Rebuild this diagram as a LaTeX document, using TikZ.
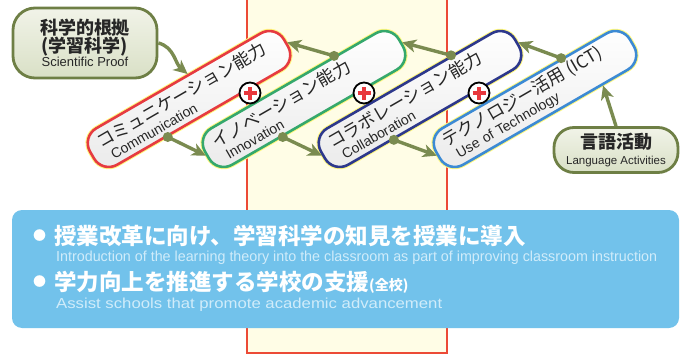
\documentclass[tikz,border=0pt]{standalone}
\usepackage{fontspec}
\usepackage{graphicx}
\setmainfont{Liberation Sans}
\newfontfamily\jpfont{Noto Sans CJK JP}
\usetikzlibrary{arrows.meta,calc}

\definecolor{pillred}{HTML}{E63B40}
\definecolor{pillgreen}{HTML}{35A86C}
\definecolor{pillnavy}{HTML}{2D388C}
\definecolor{pillsky}{HTML}{3C8AD4}
\definecolor{linkgreen}{HTML}{7A8B50}
\definecolor{boxline}{HTML}{6E7F45}
\definecolor{boxtop}{HTML}{F1F3E8}
\definecolor{boxbot}{HTML}{D9E0C6}
\definecolor{cream}{HTML}{FFFDE6}
\definecolor{framered}{HTML}{EC4A36}
\definecolor{bandblue}{HTML}{72C2EB}
\definecolor{bandtext}{HTML}{D0ECFA}
\definecolor{plusred}{HTML}{E8383D}

\begin{document}
\begin{tikzpicture}[x=1pt,y=-1pt,
	pill/.style={draw=#1, line width=2.6pt, rounded corners=17pt, rotate=30,
		minimum width=224pt, minimum height=42pt, inner sep=0pt,
		top color=white, bottom color=black!8,
		preaction={draw=yellow!50, line width=4.6pt},
		text width=202pt, align=left, text=black!85,
		font=\fontsize{14}{18}\selectfont},
	plusmark/.style={circle, draw=black, line width=1.8pt, fill=white,
		minimum size=21pt, inner sep=0pt,
		path picture={\draw[plusred, line width=3.6pt]
			([xshift=-6.5pt]path picture bounding box.center) -- ([xshift=6.5pt]path picture bounding box.center)
			([yshift=-6.5pt]path picture bounding box.center) -- ([yshift=6.5pt]path picture bounding box.center);}},
	sidebox/.style={draw=boxline, line width=2.8pt, rounded corners=#1,
		top color=boxtop, bottom color=boxbot, align=center, inner sep=0pt, text=black!85},
	link/.style={linkgreen, line width=3.4pt, -{Stealth[length=14pt,width=13pt,inset=4pt]}},
	band/.style={fill=bandblue, rounded corners=10pt, minimum width=667pt, minimum height=118pt},
	jpline/.style={anchor=west, inner sep=0pt, text=white, font=\jpfont\bfseries\fontsize{22.5}{24}\selectfont},
	enline/.style={anchor=west, inner sep=0pt, text=bandtext, font=\fontsize{14}{16}\selectfont}]

	\useasboundingbox (0,0) rectangle (681,356);

	\fill[cream] (247,0) rectangle (447,353);
	\draw[framered, line width=1.3pt] (247,-2) -- (247,353) -- (447,353) -- (447,-2);

	\node[pill=pillred]   (comm)   at (189,99) {{\jpfont\fontsize{17.5}{18}\selectfont コミュニケーション能力}\\[-2pt]\hspace{6pt}Communication};
	\node[pill=pillgreen] (inno)   at (304,99) {{\jpfont\fontsize{17.5}{18}\selectfont イノベーション能力}\\[-2pt]\hspace{6pt}Innovation};
	\node[pill=pillnavy]  (collab) at (420,99) {{\jpfont\fontsize{17.5}{18}\selectfont コラボレーション能力}\\[-2pt]\hspace{6pt}Collaboration};
	\node[pill=pillsky]   (tech)   at (535,99) {{\jpfont\fontsize{17.5}{18}\selectfont テクノロジー活用 (ICT)}\\[-2pt]\hspace{6pt}Use of Technology};

	\coordinate (t1) at ($(inno.north)!0.42!(inno.north east)$);
	\coordinate (t2) at ($(collab.north)!0.43!(collab.north east)$);
	\coordinate (t3) at ($(tech.north)!0.38!(tech.north east)$);
	\coordinate (b1) at ($(comm.south)!0.33!(comm.south west)$);
	\coordinate (b2) at ($(inno.south)!0.33!(inno.south west)$);
	\coordinate (b3) at ($(collab.south)!0.38!(collab.south west)$);
	\coordinate (c0) at ($(comm.north)!0.1!(comm.north east)$);
	\coordinate (c4) at ($(tech.south)!0.58!(tech.south east)$);

	\draw[link] (t1) -- (comm.east);   \fill[linkgreen] (t1) circle (5pt);
	\draw[link] (t2) -- (inno.east);   \fill[linkgreen] (t2) circle (5pt);
	\draw[link] (t3) -- (collab.east); \fill[linkgreen] (t3) circle (5pt);
	\draw[link] (b1) -- (inno.west);   \fill[linkgreen] (b1) circle (5pt);
	\draw[link] (b2) -- (collab.west); \fill[linkgreen] (b2) circle (5pt);
	\draw[link] (b3) -- (tech.west);   \fill[linkgreen] (b3) circle (5pt);

	\node[plusmark] (plus1) at (250,93) {};
	\node[plusmark] (plus2) at (364,93) {};
	\node[plusmark] (plus3) at (479,93) {};

	\node[sidebox=22pt, minimum width=144pt, minimum height=70pt, font=\fontsize{13}{20}\selectfont] (sci) at (85,43)
		{{\jpfont\bfseries\fontsize{18}{20}\selectfont 科学的根拠}\\[-2pt]{\jpfont\bfseries\fontsize{18}{20}\selectfont (学習科学)}\\[-6pt]Scientific Proof};
	\draw[link] (sci.east) to[out=-15,in=140] (c0);

	\node[sidebox=20pt, minimum width=124pt, minimum height=45pt, font=\fontsize{11.5}{19}\selectfont] (lang) at (616,150)
		{{\jpfont\bfseries\fontsize{18}{19}\selectfont 言語活動}\\[-3pt]Language Activities};
	\draw[link] (lang.north) -- (c4);

	\node[band] (band) at (345.5,269) {};
	\node[jpline] (goal1) at (33,236) {{\fontsize{13}{13}\selectfont\raisebox{3.6pt}{●}}\hspace{8pt}授業改革に向け、学習科学の知見を授業に導入};
	\node[enline] (goal1en) at (56,258) {\resizebox{601pt}{10.5pt}{Introduction of the learning theory into the classroom as part of improving classroom instruction}};
	\node[jpline] (goal2) at (33,282) {{\fontsize{13}{13}\selectfont\raisebox{3.6pt}{●}}\hspace{8pt}学力向上を推進する学校の支援{\fontsize{14}{14}\selectfont (全校)}};
	\node[enline] (goal2en) at (56,305) {\resizebox{386pt}{10.5pt}{Assist schools that promote academic advancement}};

\end{tikzpicture}
\end{document}
